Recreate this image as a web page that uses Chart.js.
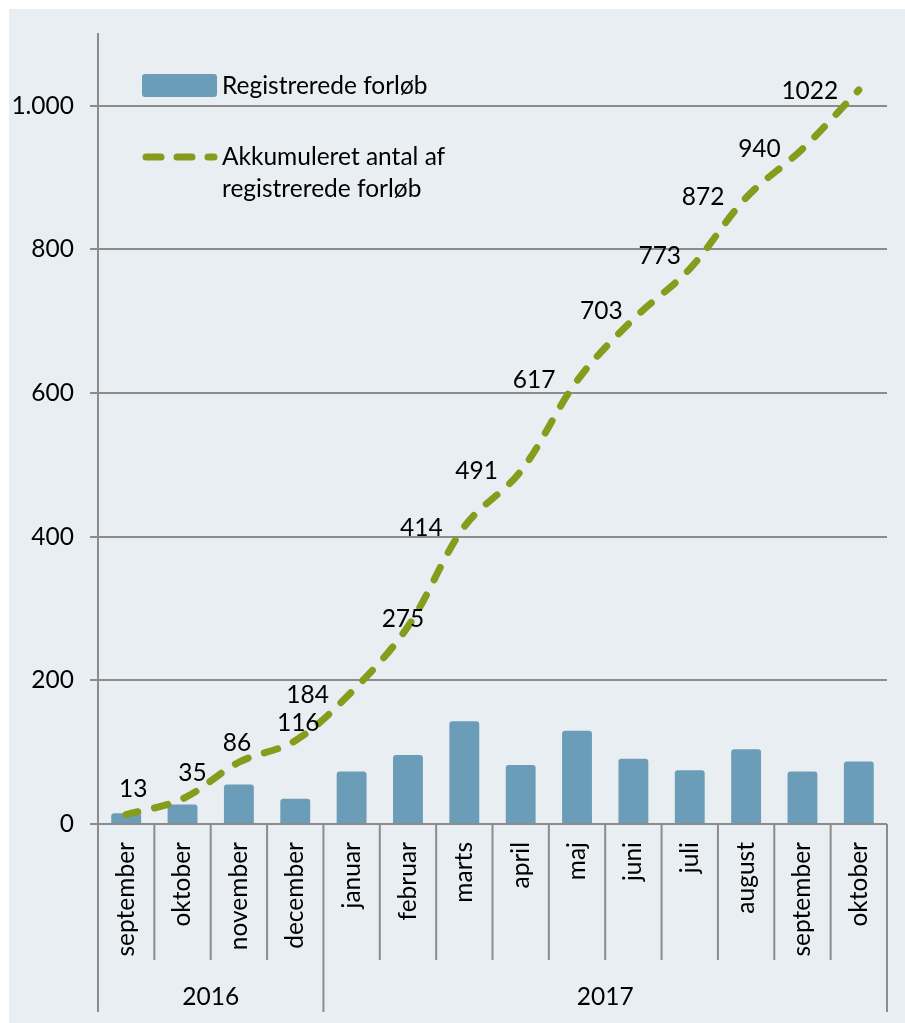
<!DOCTYPE html>
<html>
<head>
<meta charset="utf-8">
<script src="https://cdn.jsdelivr.net/npm/chart.js@4.4.1/dist/chart.umd.min.js"></script>
<style>
  html, body { margin: 0; padding: 0; background: #fff; }
  #wrap { position: absolute; left: 0; top: 0; width: 905px; height: 1023px; }
</style>
</head>
<body>
<div id="wrap"><canvas id="chart" width="905" height="1023"></canvas></div>
<script>
// data
const months = ['september', 'oktober', 'november', 'december', 'januar', 'februar', 'marts',
  'april', 'maj', 'juni', 'juli', 'august', 'september', 'oktober'];
const years = ['2016', '2017'];
const monthsPerYear = [4, 10];
const registered = [15, 27, 55, 35, 73, 96, 143, 82, 130, 91, 75, 104, 73, 87];
const cumulative = [13, 35, 86, 116, 184, 275, 414, 491, 617, 703, 773, 872, 940, 1022];
const yTicks = [0, 200, 400, 600, 800, 1000];

// where each value label sits relative to its point (px)
const labelOffsets = [[7, -26], [10, -26], [-2, -19], [3, -18], [-44, 3], [-5, -7], [-43, 1],
  [-44, 0], [-43, -1], [-32, -8], [-30, -13], [-43, -1], [-43, 0], [-49, 1]];

const FONT_SIZE = 24.5;
const FONT = FONT_SIZE + 'px Lato';
const barColor = '#6b9db8';
const lineColor = '#879b1d';
const axisColor = '#8c8c8c';

function fmt(v) {
  return String(v).replace(/\B(?=(\d{3})+(?!\d))/g, '.');
}

const panel = {
  id: 'panel',
  beforeDraw(chart) {
    const c = chart.ctx;
    c.save();
    c.fillStyle = '#e9eef2';
    c.fillRect(9, 9, 896, 1014);
    c.restore();
  }
};

const xAxisLabels = {
  id: 'xAxisLabels',
  afterDraw(chart) {
    const c = chart.ctx;
    const xs = chart.scales.x;
    const area = chart.chartArea;
    const w = xs.getPixelForValue(1) - xs.getPixelForValue(0);
    const edge = xs.getPixelForValue(0) - w / 2;
    c.save();
    c.strokeStyle = axisColor;
    c.lineWidth = 2;
    // month separators
    for (let i = 0; i <= months.length; i++) {
      const x = edge + i * w;
      c.beginPath();
      c.moveTo(x, area.bottom);
      c.lineTo(x, 960);
      c.stroke();
    }
    // year separators
    let idx = 0;
    const bounds = [0];
    monthsPerYear.forEach(n => { idx += n; bounds.push(idx); });
    bounds.forEach(b => {
      const x = edge + b * w;
      c.beginPath();
      c.moveTo(x, 960);
      c.lineTo(x, 1012);
      c.stroke();
    });
    c.fillStyle = '#000';
    c.font = FONT;
    // month labels, vertical
    months.forEach((m, i) => {
      const x = xs.getPixelForValue(i);
      c.save();
      c.translate(x, 842);
      c.rotate(-Math.PI / 2);
      c.textAlign = 'right';
      c.textBaseline = 'middle';
      c.fillText(m, 0, 0);
      c.restore();
    });
    // year labels
    c.textAlign = 'center';
    c.textBaseline = 'middle';
    years.forEach((y, k) => {
      const x0 = edge + bounds[k] * w;
      const x1 = edge + bounds[k + 1] * w;
      c.fillText(y, (x0 + x1) / 2, 997);
    });
    c.restore();
  }
};

const valueLabels = {
  id: 'valueLabels',
  afterDatasetsDraw(chart) {
    const c = chart.ctx;
    const meta = chart.getDatasetMeta(1);
    c.save();
    c.fillStyle = '#000';
    c.font = FONT;
    c.textAlign = 'center';
    c.textBaseline = 'middle';
    meta.data.forEach((p, i) => {
      c.fillText(cumulative[i], p.x + labelOffsets[i][0], p.y + labelOffsets[i][1]);
    });
    c.restore();
  }
};

const legendBox = {
  id: 'legendBox',
  afterDraw(chart) {
    const c = chart.ctx;
    c.save();
    c.fillStyle = barColor;
    c.beginPath();
    c.roundRect(142, 74, 75, 23, 3);
    c.fill();
    c.strokeStyle = lineColor;
    c.lineWidth = 7;
    c.lineCap = 'round';
    c.setLineDash([15, 16]);
    c.beginPath();
    c.moveTo(146, 157);
    c.lineTo(214, 157);
    c.stroke();
    c.fillStyle = '#000';
    c.font = FONT;
    c.textAlign = 'left';
    c.textBaseline = 'middle';
    c.fillText('Registrerede forløb', 222, 86);
    c.fillText('Akkumuleret antal af', 222, 157);
    c.fillText('registrerede forløb', 222, 189);
    c.restore();
  }
};

new Chart(document.getElementById('chart'), {
  type: 'bar',
  data: {
    labels: months,
    datasets: [{
      label: 'Registrerede forløb',
      data: registered,
      backgroundColor: barColor,
      borderRadius: 3,
      barPercentage: 0.53,
      categoryPercentage: 1,
      order: 1
    }, {
      type: 'line',
      label: 'Akkumuleret antal af registrerede forløb',
      data: cumulative,
      borderColor: lineColor,
      borderWidth: 7,
      borderDash: [14, 17],
      borderDashOffset: 2,
      borderCapStyle: 'round',
      pointRadius: 0,
      tension: 0.35,
      fill: false,
      order: 0
    }]
  },
  options: {
    responsive: false,
    animation: false,
    layout: { padding: { top: 34, right: 18, bottom: 199, left: 0 } },
    plugins: {
      legend: { display: false },
      tooltip: { enabled: false }
    },
    scales: {
      x: { display: false },
      y: {
        min: 0,
        max: 1100,
        afterBuildTicks: s => { s.ticks = yTicks.map(v => ({ value: v })); },
        afterFit: s => { s.width = 98; },
        ticks: {
          color: '#000',
          font: { family: 'Lato', size: FONT_SIZE },
          padding: 16,
          callback: v => fmt(v)
        },
        grid: { color: axisColor, lineWidth: 2, tickLength: 8 },
        border: { color: axisColor, width: 2 }
      }
    }
  },
  plugins: [panel, xAxisLabels, valueLabels, legendBox]
});
</script>
</body>
</html>
